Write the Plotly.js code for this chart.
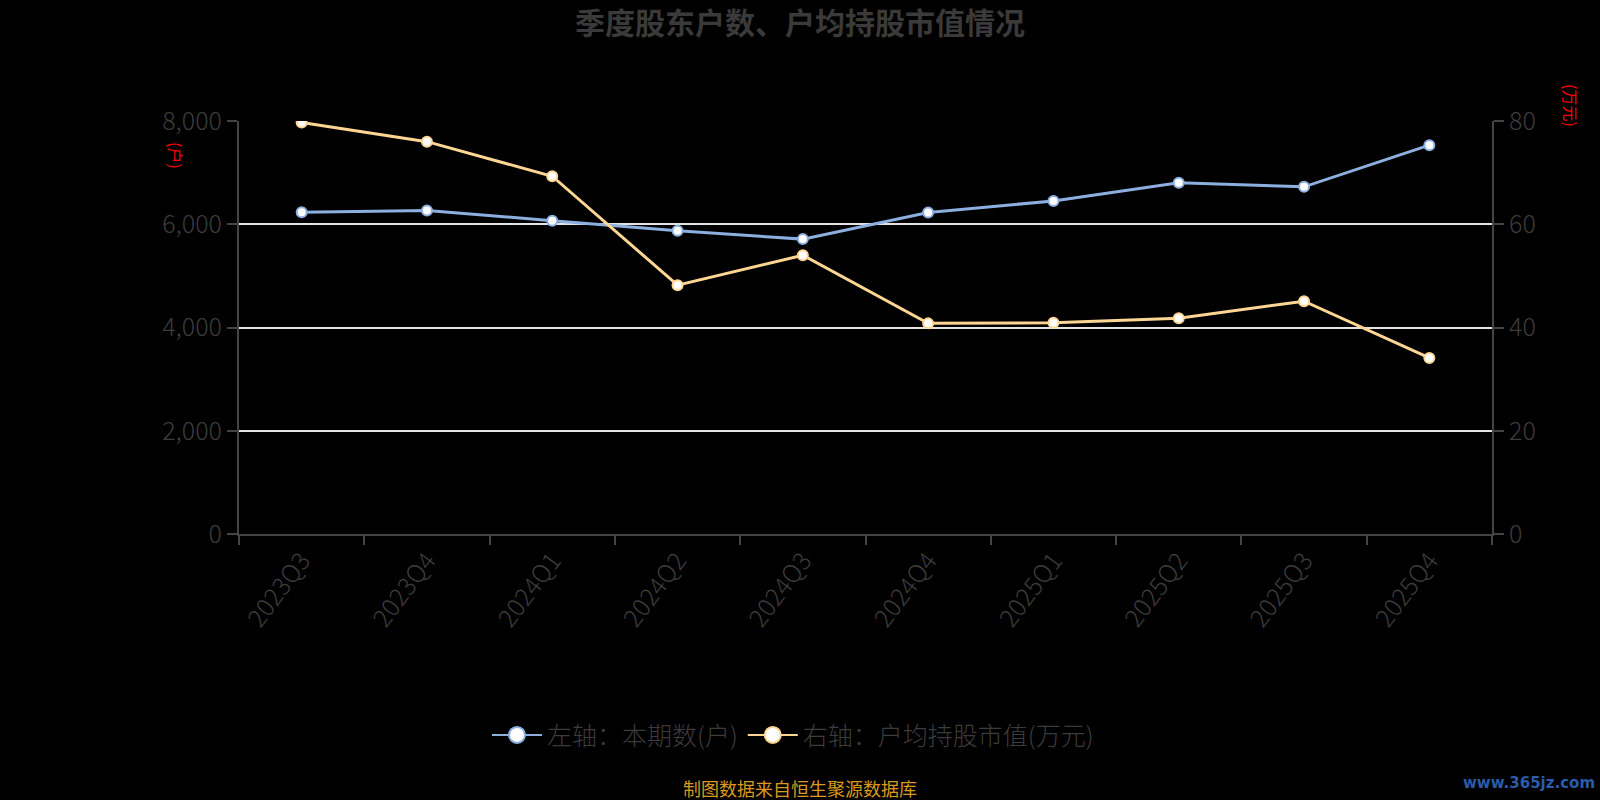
<!DOCTYPE html>
<html>
<head>
<meta charset="utf-8">
<script src="https://cdn.plot.ly/plotly-3.0.1.min.js"></script>
<style>html,body{margin:0;padding:0;background:#000;}#chart{width:1600px;height:800px;}</style>
</head>
<body>
<div id="chart"></div>
<script>
const quarters = ["2023Q3","2023Q4","2024Q1","2024Q2","2024Q3","2024Q4","2025Q1","2025Q2","2025Q3","2025Q4"];
const holders = [6232, 6266, 6070, 5872, 5712, 6228, 6452, 6805, 6725, 7532];
const avgValue = [79.7, 76.0, 69.3, 48.2, 54.0, 40.8, 40.9, 41.8, 45.1, 34.1];
const seriesNames = ["左轴：本期数(户)", "右轴：户均持股市值(万元)"];
const leftTicks = [0, 2000, 4000, 6000, 8000];
const rightTicks = [0, 20, 40, 60, 80];

const FONT = '"Noto Sans CJK SC", "Noto Sans", sans-serif';
const GRAY = '#3c3c3c';
const BLUE = '#8cafe0';
const ORANGE = '#fdd694';

const traces = [
  {x: quarters, y: holders, type:'scatter', mode:'lines+markers', yaxis:'y', showlegend:false,
   line:{color:BLUE, width:3}, marker:{size:10, color:'#fff', line:{color:BLUE, width:2}}, name:seriesNames[0]},
  {x: quarters, y: avgValue, type:'scatter', mode:'lines+markers', yaxis:'y2', showlegend:false,
   line:{color:ORANGE, width:3}, marker:{size:10, color:'#fff', line:{color:ORANGE, width:2}}, name:seriesNames[1]},
  {x:[null], y:[null], type:'scatter', mode:'lines+markers', name:seriesNames[0], yaxis:'y',
   line:{color:BLUE, width:2}, marker:{size:23, color:'#fff', line:{color:BLUE, width:2}}},
  {x:[null], y:[null], type:'scatter', mode:'lines+markers', name:seriesNames[1], yaxis:'y2',
   line:{color:ORANGE, width:2}, marker:{size:23, color:'#fff', line:{color:ORANGE, width:2}}}
];

const tickFont = {family:FONT, size:25, color:GRAY, weight:300};
const xTickFont = {family:FONT, size:25, color:GRAY, weight:300};

const layout = {
  width:1600, height:800,
  paper_bgcolor:'#000', plot_bgcolor:'#000',
  margin:{l:239, r:108, t:121, b:266},
  font:{family:FONT, color:GRAY},
  title:{text:'季度股东户数、户均持股市值情况', font:{family:FONT, size:30, color:'#3a3a3a', weight:'bold'},
         x:0.5, xanchor:'center', y:0.971, yanchor:'middle'},
  xaxis:{type:'category', range:[-0.5, 9.5], tickangle:-53, tickson:'boundaries',
         ticks:'outside', ticklen:9, tickwidth:2, tickcolor:'#444',
         showline:true, linecolor:'#444', linewidth:2, showgrid:false, zeroline:false,
         tickfont:xTickFont},
  yaxis:{range:[0, 8000], tickvals:leftTicks, tickformat:',', ticks:'outside', ticklen:10, tickwidth:2, tickcolor:'#444',
         showline:true, linecolor:'#444', linewidth:2, showgrid:true, gridcolor:'#e4e4e4', gridwidth:2,
         zeroline:false, tickfont:tickFont},
  yaxis2:{range:[0, 80], tickvals:rightTicks, overlaying:'y', side:'right', ticks:'outside', ticklen:10, tickwidth:2,
          tickcolor:'#444', showline:true, linecolor:'#444', linewidth:2, showgrid:false, zeroline:false,
          tickfont:tickFont},
  legend:{orientation:'h', x:(793-239)/1253, xanchor:'center', y:-0.487, yanchor:'middle',
          font:{family:FONT, size:25, color:GRAY, weight:300}, bgcolor:'rgba(0,0,0,0)', itemwidth:50},
  annotations:[
    {text:'(户)', xref:'paper', yref:'paper', x:(176-239)/1253, y:(534-155)/413, showarrow:false,
     textangle:90, font:{family:FONT, size:16, color:'#ff0000'}, xanchor:'center', yanchor:'middle'},
    {text:'(万元)', xref:'paper', yref:'paper', x:(1571-239)/1253, y:(534-106)/413, showarrow:false,
     textangle:90, font:{family:FONT, size:16, color:'#ff0000'}, xanchor:'center', yanchor:'middle'},
    {text:'制图数据来自恒生聚源数据库', xref:'paper', yref:'paper', x:(800-239)/1253, y:(534-788)/413, showarrow:false,
     font:{family:FONT, size:18, color:'#d99a1e'}, xanchor:'center', yanchor:'middle'},
    {text:'<b>www.365jz.com</b>', xref:'paper', yref:'paper', x:(1597-239)/1253, y:(534-783)/413, showarrow:false,
     font:{family:'"DejaVu Sans", sans-serif', size:15, color:'#2a5caa'}, xanchor:'right', yanchor:'middle'}
  ]
};

Plotly.newPlot('chart', traces, layout, {displayModeBar:false, staticPlot:true});
</script>
</body>
</html>
